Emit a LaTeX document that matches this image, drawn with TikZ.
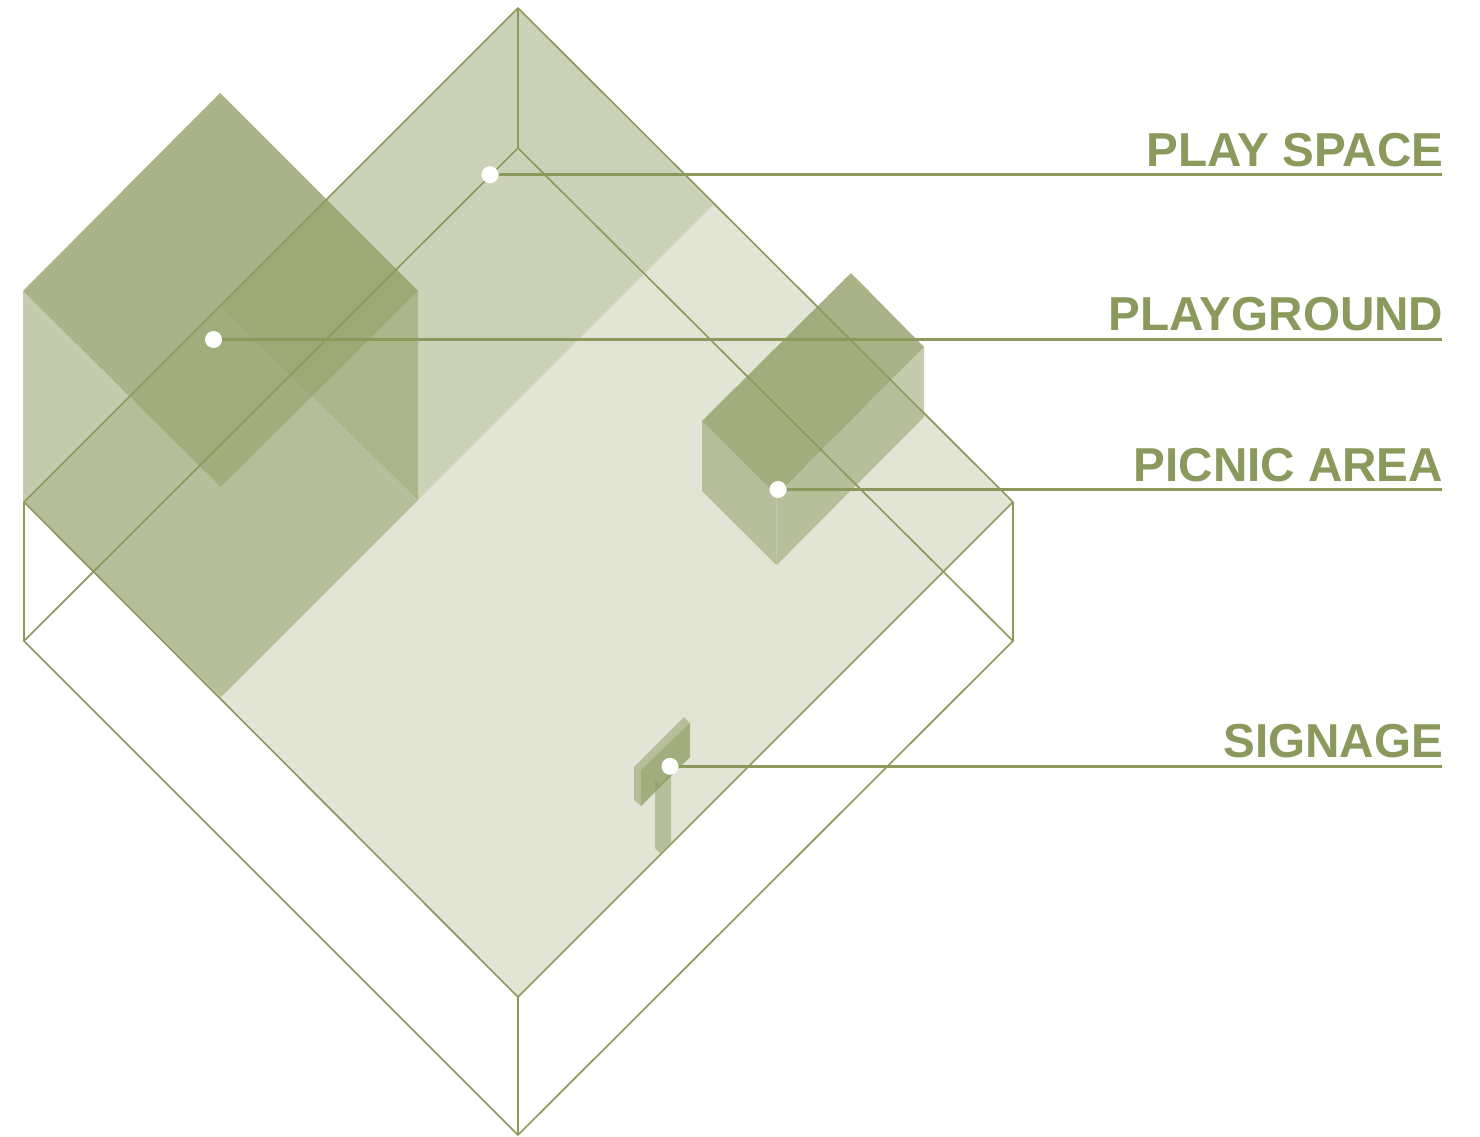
\documentclass[tikz,border=0pt]{standalone}
\usepackage{fontspec}
\setmainfont{Liberation Sans}
\usepackage{tikz}
\usetikzlibrary{positioning, calc}
\definecolor{olive}{RGB}{139,153,93}
\tikzset{
  slab/.style={fill=olive, fill opacity=0.25},
  side/.style={fill=olive, fill opacity=0.5},
  roof/.style={fill=olive, fill opacity=0.74},
  edge/.style={draw=olive, line width=0.95pt, line join=round},
  leader/.style={draw=olive, line width=1.4pt},
  dot/.style={circle, fill=white, inner sep=0pt, minimum size=0.34cm},
  tag/.style={anchor=base east, inner sep=0pt, text=olive, font=\fontsize{27.1}{31}\selectfont\bfseries}
}

\begin{document}
\begin{tikzpicture}[x=0.02cm, y=-0.02cm]
  \useasboundingbox (0,0) rectangle (1480,1136);
  % ground
  \fill[slab] (518,8) -- (1013,502) -- (518,997) -- (24,502) -- cycle;
  \fill[slab] (518,8) -- (713,205) -- (418,500) -- (220,306) -- cycle;
  % big block
  \fill[side] (23,291) -- (220.8,487) -- (220.8,697) -- (23,502) -- cycle;
  \fill[side] (221.1,487) -- (418,291) -- (418,500) -- (221.1,697) -- cycle;
  \fill[roof] (220,93) -- (418,291) -- (220.9,487) -- (23,291) -- cycle;
  % small block
  \fill[side] (702,421) -- (776.5,495) -- (776.5,565) -- (702,491) -- cycle;
  \fill[side] (776.8,495) -- (924,347) -- (924,417) -- (776.8,565) -- cycle;
  \fill[roof] (851,273) -- (924,347) -- (776.6,495) -- (702,421) -- cycle;
  % sign
  \fill[side] (655,779) -- (660,784) -- (660,853) -- (655,848) -- cycle;
  \fill[side] (660,784) -- (671,773) -- (671,842) -- (660,853) -- cycle;
  \fill[side] (634,767) -- (684,717) -- (690,723) -- (641,770) -- cycle;
  \fill[side] (634,767) -- (641,770) -- (641,806) -- (634,800) -- cycle;
  \fill[roof] (641,770) -- (690,723) -- (690,757) -- (641,806) -- cycle;
  % frame
  \draw[edge] (518,8) -- (1013,502) -- (518,997) -- (24,502) -- cycle;
  \draw[edge] (24,502) -- (24,641) -- (518,1135) -- (1013,641) -- (1013,502);
  \draw[edge] (24,641) -- (518,148) -- (1013,641);
  \draw[edge] (518,8) -- (518,148);
  \draw[edge] (518,997) -- (518,1135);
  % labels
  \node[dot] (playspace) at (490,174.7) {};
  \node[dot] (playground) at (213.5,339.5) {};
  \node[dot] (picnic) at (778,489.5) {};
  \node[dot] (signage) at (670,766.3) {};
  \coordinate (playspaceend) at (1442,174.7);
  \coordinate (playgroundend) at (1442,339.5);
  \coordinate (picnicend) at (1442,489.5);
  \coordinate (signageend) at (1442,766.3);
  \draw[leader] (playspace) -- (playspaceend);
  \draw[leader] (playground) -- (playgroundend);
  \draw[leader] (picnic) -- (picnicend);
  \draw[leader] (signage) -- (signageend);
  \node[tag] (playspacetag) at (1443.5,166) {PLAY SPACE};
  \node[tag] (playgroundtag) at (1443.5,330) {PLAYGROUND};
  \node[tag] (picnictag) at (1443.5,481) {PICNIC AREA};
  \node[tag] (signagetag) at (1443.5,757) {SIGNAGE};
\end{tikzpicture}
\end{document}
